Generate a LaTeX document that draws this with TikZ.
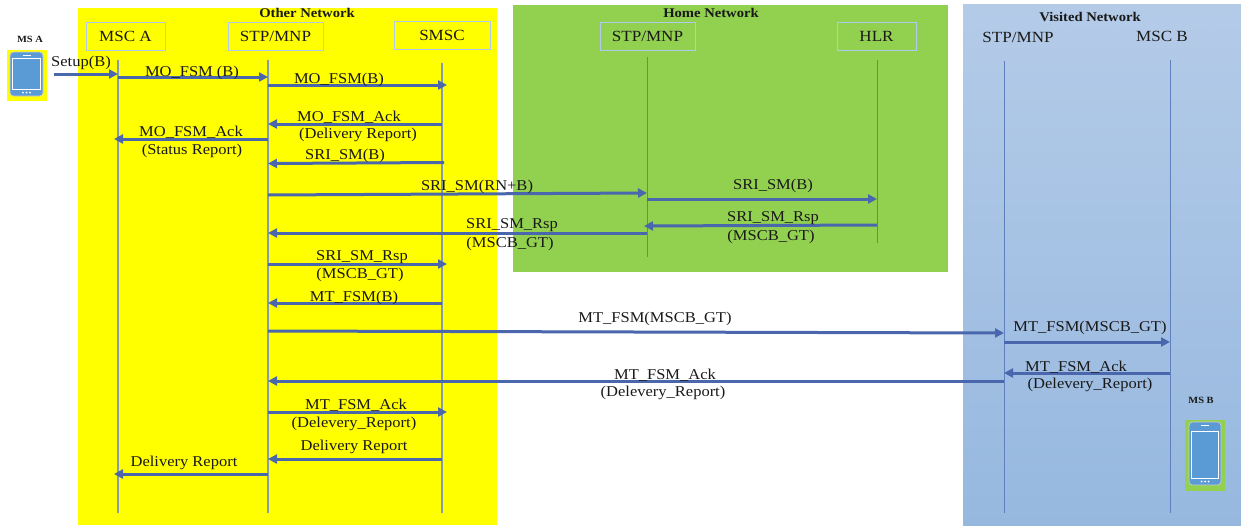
\documentclass[tikz,border=0pt]{standalone}
\usepackage{fontspec}
\setmainfont[FakeStretch=1.1]{Liberation Serif}
\usetikzlibrary{arrows.meta}
\definecolor{netyellow}{RGB}{255,255,0}
\definecolor{msgblue}{RGB}{74,102,172}
\definecolor{lifeblue}{RGB}{95,127,191}
\definecolor{lifegrey}{RGB}{135,155,175}
\definecolor{boxedge}{RGB}{176,202,235}
\definecolor{netgreen}{RGB}{146,208,80}
\definecolor{phoneblue}{RGB}{91,155,213}
\definecolor{visitedtop}{RGB}{180,203,232}
\definecolor{visitedbot}{RGB}{150,184,223}
\definecolor{inktext}{RGB}{25,25,25}
\tikzset{
  head/.style={draw=boxedge,line width=.9pt,minimum height=28pt,inner sep=0pt,font=\fontsize{15.5}{17}\selectfont,text=inktext},
  life/.style={draw=lifeblue,line width=1pt},
  lifeY/.style={draw=lifegrey,line width=1.3pt},
  msg/.style={draw=msgblue,line width=3pt,-{Triangle[length=9pt,width=9pt]}},
  lbl/.style={inner sep=0pt,yshift=-2pt,font=\fontsize{15}{17}\selectfont,text=inktext},
  title/.style={inner sep=0pt,font=\fontsize{13.3}{14}\selectfont\bfseries,text=inktext},
  mslbl/.style={inner sep=0pt,font=\fontsize{9.5}{11}\selectfont\bfseries,text=inktext},
  phonebody/.style={fill=phoneblue,draw=black!20,line width=.7pt,rounded corners=3.5pt},
  phonescreen/.style={draw=white,line width=1pt,fill=phoneblue},
}
\newcommand{\phoneicon}[5]{% left, right, top, bottom, screen inset top
  \fill[phonebody] (#1,#3) rectangle (#2,#4);
  \draw[phonescreen] ({#1+2.5},{#3+#5}) rectangle ({#2-2.5},{#4-7});
  \draw[white,line width=1pt] ({(#1+#2)/2-4},{#3+3.5}) -- ({(#1+#2)/2+4},{#3+3.5});
  \foreach \d in {-3.5,0,3.5}{\fill[white] ({(#1+#2)/2+\d},{#4-3.5}) circle (1);}
}
\begin{document}
\begin{tikzpicture}[x=1pt,y=-1pt]
\useasboundingbox (0,0) rectangle (1241,525);
% network panels
\fill[netyellow] (78,8) rectangle (497,525);
\fill[netgreen] (513,5) rectangle (948,272);
\shade[top color=visitedtop,bottom color=visitedbot] (963,4) rectangle (1241,525);
\node[title] (tOther) at (307,13) {Other Network};
\node[title] (tHome) at (711,13) {Home Network};
\node[title] (tVisited) at (1090,17) {Visited Network};
% headers
\node[head,minimum width=79pt] (hA) at (125.5,36) {MSC A};
\node[head,minimum width=95pt] (hS) at (275.5,36) {STP/MNP};
\node[head,minimum width=96pt] (hC) at (442,35) {SMSC};
\node[head,minimum width=95pt] (hH) at (647.5,36.5) {STP/MNP};
\node[head,minimum width=79pt] (hL) at (876.5,36.5) {HLR};
\node[head,minimum width=96pt,draw=visitedtop!70!boxedge] (hV) at (1018,37) {STP/MNP};
\node[head,minimum width=96pt,draw=visitedtop!70!boxedge] (hB) at (1162,36.5) {MSC B};
% lifelines
\coordinate (lA) at (118,60);  \coordinate (lAe) at (118,513);
\coordinate (lS) at (268,60);  \coordinate (lSe) at (268,513);
\coordinate (lC) at (442,63);  \coordinate (lCe) at (442,513);
\coordinate (lH) at (647,57);  \coordinate (lHe) at (647,257);
\coordinate (lL) at (877,60);  \coordinate (lLe) at (877,243);
\coordinate (lV) at (1004,61); \coordinate (lVe) at (1004,513);
\coordinate (lB) at (1170,60); \coordinate (lBe) at (1170,513);
\foreach \a/\b in {lA/lAe,lS/lSe,lC/lCe}{\draw[lifeY] (\a) -- (\b);}
\foreach \a/\b in {lH/lHe,lL/lLe,lV/lVe,lB/lBe}{\draw[life] (\a) -- (\b);}
% phones
\fill[netyellow] (7,50) rectangle (47,101);
\phoneicon{10}{43}{52}{96}{6}
\fill[netgreen] (1185,420) rectangle (1225,491);
\phoneicon{1189}{1221}{422}{485}{9}
\node[mslbl] (msA) at (30,39) {MS A};
\node[mslbl] (msB) at (1201,400) {MS B};
\coordinate (phA) at (54,74);
% messages
\draw[msg] (phA) -- (lA |- 0,74);
\draw[msg] (lA |- 0,77) -- (lS |- 0,77);
\draw[msg] (lS |- 0,85) -- ([xshift=5pt]lC |- 0,85);
\draw[msg] (lC |- 0,124) -- (lS |- 0,124);
\draw[msg] (lS |- 0,139) -- ([xshift=-4pt]lA |- 0,139);
\draw[msg] ([xshift=2pt]lC |- 0,162.5) -- (lS |- 0,163.5);
\draw[msg] (lS |- 0,195) -- (lH |- 0,193);
\draw[msg] (lH |- 0,199) -- (lL |- 0,199);
\draw[msg] (lL |- 0,225) -- ([xshift=-3pt]lH |- 0,226);
\draw[msg] (lH |- 0,233) -- (lS |- 0,233);
\draw[msg] (lS |- 0,264) -- ([xshift=5pt]lC |- 0,264);
\draw[msg] (lC |- 0,303) -- (lS |- 0,303);
\draw[msg] (lS |- 0,331) -- (lV |- 0,333);
\draw[msg] (lV |- 0,342) -- (lB |- 0,342);
\draw[msg] (lB |- 0,373) -- (lV |- 0,373);
\draw[msg] (lV |- 0,381) -- (lS |- 0,381);
\draw[msg] (lS |- 0,412) -- ([xshift=5pt]lC |- 0,412);
\draw[msg] (lC |- 0,459) -- (lS |- 0,459);
\draw[msg] (lS |- 0,474) -- ([xshift=-4pt]lA |- 0,474);
% labels
\node[lbl] (m1) at (81,61) {Setup(B)};
\node[lbl] (m2) at (192,71) {MO\_FSM (B)};
\node[lbl] (m3) at (339,78) {MO\_FSM(B)};
\node[lbl] (m4) at (349,115) {MO\_FSM\_Ack};
\node[lbl] (m4b) at (358,133) {(Delivery Report)};
\node[lbl] (m5) at (191,130) {MO\_FSM\_Ack};
\node[lbl] (m5b) at (192,149) {(Status Report)};
\node[lbl] (m6) at (345,154) {SRI\_SM(B)};
\node[lbl] (m7) at (477,185) {SRI\_SM(RN+B)};
\node[lbl] (m8) at (773,184) {SRI\_SM(B)};
\node[lbl] (m9) at (773,216) {SRI\_SM\_Rsp};
\node[lbl] (m9b) at (771,235) {(MSCB\_GT)};
\node[lbl] (m10) at (512,223) {SRI\_SM\_Rsp};
\node[lbl] (m10b) at (510,242) {(MSCB\_GT)};
\node[lbl] (m11) at (362,255) {SRI\_SM\_Rsp};
\node[lbl] (m11b) at (360,273) {(MSCB\_GT)};
\node[lbl] (m12) at (354,296) {MT\_FSM(B)};
\node[lbl] (m13) at (655,317) {MT\_FSM(MSCB\_GT)};
\node[lbl] (m14) at (1090,326) {MT\_FSM(MSCB\_GT)};
\node[lbl] (m15) at (1076,365) {MT\_FSM\_Ack};
\node[lbl] (m15b) at (1090,383) {(Delevery\_Report)};
\node[lbl] (m16) at (665,373) {MT\_FSM\_Ack};
\node[lbl] (m16b) at (663,391) {(Delevery\_Report)};
\node[lbl] (m17) at (356,403) {MT\_FSM\_Ack};
\node[lbl] (m17b) at (354,422) {(Delevery\_Report)};
\node[lbl] (m18) at (354,445) {Delivery Report};
\node[lbl] (m19) at (184,461) {Delivery Report};
\end{tikzpicture}
\end{document}
